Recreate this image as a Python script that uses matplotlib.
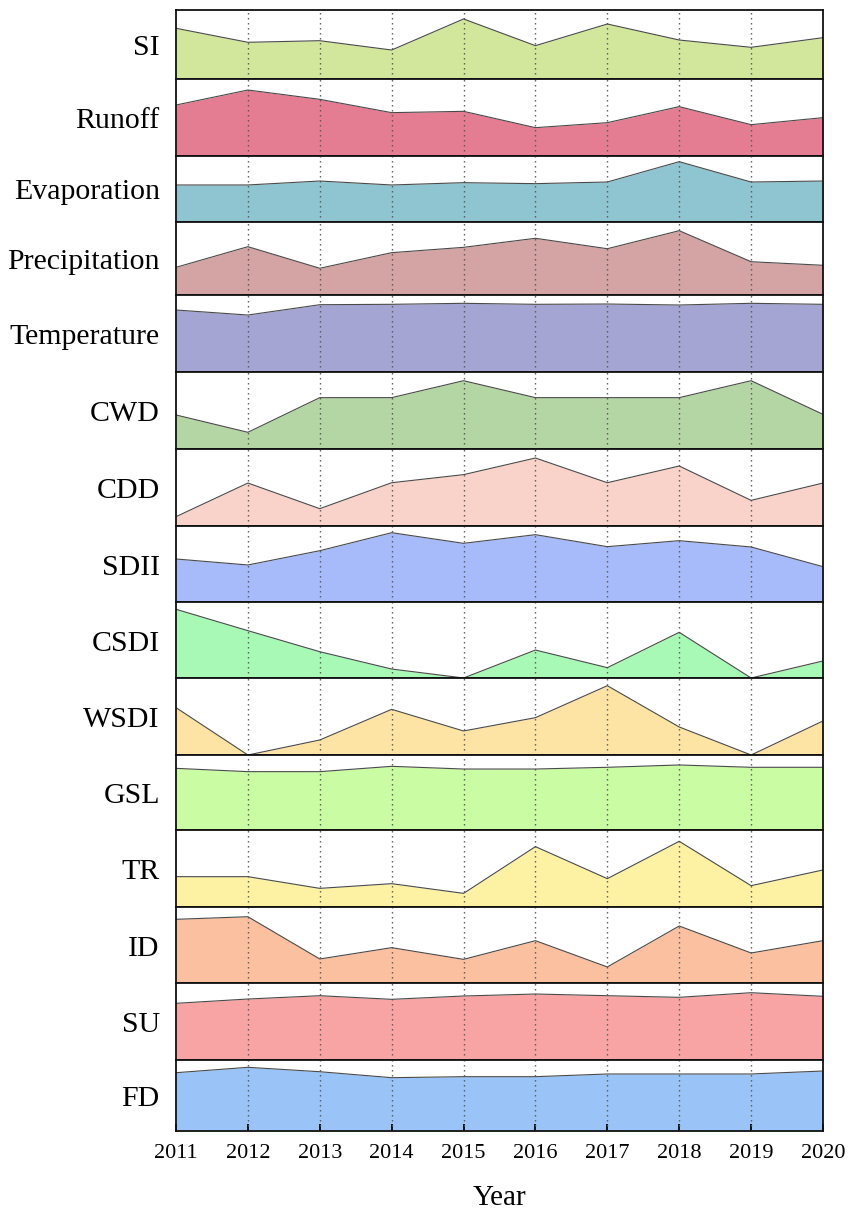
import matplotlib
matplotlib.use("Agg")
import matplotlib.pyplot as plt
import numpy as np

plt.rcParams['font.family'] = ['Liberation Serif', 'DejaVu Serif']

years = [2011, 2012, 2013, 2014, 2015, 2016, 2017, 2018, 2019, 2020]

# Normalised index values (0 = panel floor, 1 = panel top)
si = [0.735, 0.532, 0.555, 0.420, 0.870, 0.483, 0.797, 0.565, 0.459, 0.599]
runoff = [0.662, 0.857, 0.736, 0.563, 0.580, 0.368, 0.433, 0.641, 0.407, 0.498]
evaporation = [0.561, 0.561, 0.621, 0.561, 0.596, 0.581, 0.606, 0.914, 0.606, 0.621]
precipitation = [0.379, 0.662, 0.366, 0.580, 0.653, 0.777, 0.634, 0.881, 0.456, 0.407]
temperature = [0.805, 0.740, 0.874, 0.879, 0.892, 0.879, 0.883, 0.870, 0.892, 0.879]
cwd = [0.442, 0.217, 0.667, 0.667, 0.887, 0.667, 0.667, 0.667, 0.887, 0.450]
cdd = [0.121, 0.558, 0.225, 0.562, 0.667, 0.883, 0.562, 0.779, 0.333, 0.558]
sdii = [0.566, 0.487, 0.675, 0.912, 0.772, 0.886, 0.728, 0.807, 0.724, 0.465]
csdi = [0.904, 0.623, 0.346, 0.118, 0.0, 0.368, 0.136, 0.601, 0.0, 0.224]
wsdi = [0.615, 0.0, 0.195, 0.593, 0.312, 0.485, 0.900, 0.364, 0.0, 0.442]
gsl = [0.822, 0.778, 0.778, 0.849, 0.813, 0.813, 0.836, 0.867, 0.836, 0.836]
tr = [0.394, 0.394, 0.242, 0.303, 0.177, 0.784, 0.368, 0.853, 0.277, 0.481]
id_ = [0.838, 0.872, 0.316, 0.465, 0.311, 0.557, 0.211, 0.750, 0.395, 0.557]
su = [0.736, 0.792, 0.835, 0.788, 0.831, 0.857, 0.835, 0.814, 0.874, 0.827]
fd = [0.821, 0.897, 0.835, 0.751, 0.765, 0.765, 0.803, 0.803, 0.803, 0.845]

names = ['SI', 'Runoff', 'Evaporation', 'Precipitation', 'Temperature', 'CWD',
         'CDD', 'SDII', 'CSDI', 'WSDI', 'GSL', 'TR', 'ID', 'SU', 'FD']
series = [si, runoff, evaporation, precipitation, temperature, cwd, cdd, sdii,
          csdi, wsdi, gsl, tr, id_, su, fd]
colors = ['#d2e79c', '#e47d91', '#8fc5d0', '#d4a3a3', '#a4a5d3', '#b4d5a4',
          '#f9d3ca', '#a7bbfa', '#a8f9b5', '#fde3a4', '#c9fca3', '#fdf2a4',
          '#fbc09f', '#f9a4a4', '#9ac4f8']

height_ratios = [69, 77, 66, 73, 77, 77, 77, 76, 76, 77, 75, 77, 76, 77, 71]

W, H = 849, 1214
fig = plt.figure(figsize=(W / 100, H / 100), dpi=100)
gs = fig.add_gridspec(len(names), 1, height_ratios=height_ratios, hspace=0,
                      left=176 / W, right=823 / W, top=1 - 10 / H, bottom=1 - 1131 / H)

axes = []
for i, (name, vals, col) in enumerate(zip(names, series, colors)):
    ax = fig.add_subplot(gs[i, 0])
    axes.append(ax)
    ax.fill_between(years, 0, vals, color=col, linewidth=0, zorder=1)
    ax.plot(years, vals, color='#4a4a4a', linewidth=0.8, zorder=3)
    ax.set_xlim(years[0], years[-1])
    ax.set_ylim(0, 1)
    ax.set_yticks([])
    for y in years[1:-1]:
        ax.axvline(y, color='#555555', linestyle=(0, (1, 2.6)), linewidth=1.0, zorder=2)
    for sp in ax.spines.values():
        sp.set_linewidth(1.3)
        sp.set_color('#111111')
        sp.set_zorder(5)
    ax.text(-0.025, 0.45, name, transform=ax.transAxes, ha='right', va='center',
            fontsize=21.5)
    if i < len(names) - 1:
        ax.set_xticks([])
    else:
        ax.set_xticks(years)
        ax.set_xticklabels([str(y) for y in years], fontsize=16)
        ax.tick_params(axis='x', direction='in', length=5, width=1.3, pad=9)

axes[-1].set_xlabel('Year', fontsize=21, labelpad=16)

fig.savefig('out.png', dpi=100)
